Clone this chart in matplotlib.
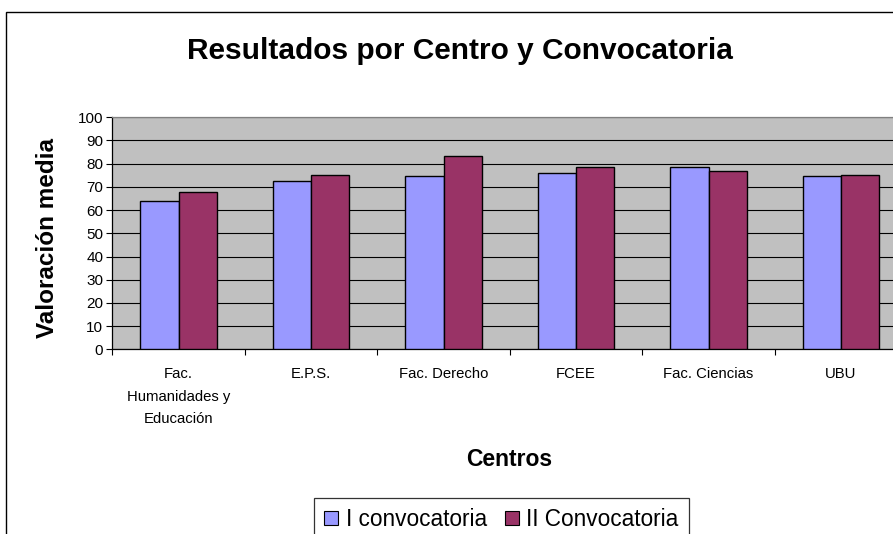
import matplotlib
matplotlib.use("Agg")
import matplotlib.pyplot as plt
from matplotlib.patches import Rectangle, Patch
import numpy as np

plt.rcParams['font.family'] = ['Liberation Sans', 'DejaVu Sans']

categories = ["Fac.\nHumanidades y\nEducación", "E.P.S.", "Fac. Derecho", "FCEE", "Fac. Ciencias", "UBU"]
conv1 = [64, 72.5, 74.5, 76, 78.5, 74.5]
conv2 = [68, 75, 83.5, 78.5, 77, 75]
series_names = ["I convocatoria", "II Convocatoria"]
yticks = list(range(0, 101, 10))

W, H = 893, 534
fig = plt.figure(figsize=(W / 100, H / 100), dpi=100)
fig.patch.set_facecolor("white")

# outer chart-area border (extends past right/bottom edges)
fig.add_artist(Rectangle((6 / W, -0.2), 2.0, (1 - 12 / H) + 0.2, transform=fig.transFigure,
                         fill=False, edgecolor="black", linewidth=1.0))

ax = fig.add_axes([112.3 / W, (H - 349.3) / H, 795 / W, 232 / H])
ax.set_facecolor("#C0C0C0")

x = np.arange(len(categories))
w = 0.29
ax.bar(x - w / 2, conv1, width=w, color="#9999FF", edgecolor="black", linewidth=1.0, zorder=3)
ax.bar(x + w / 2, conv2, width=w, color="#993366", edgecolor="black", linewidth=1.0, zorder=3)

ax.set_xlim(-0.5, len(categories) - 0.5)
ax.set_ylim(0, 100)
ax.set_yticks(yticks)
ax.yaxis.grid(True, color="black", linewidth=0.8, zorder=1)
ax.set_axisbelow(True)

ax.set_xticks(x)
ax.set_xticklabels(categories, fontsize=10.7, linespacing=1.75)
ax.set_xticks(np.arange(-0.5, len(categories) + 0.5, 1), minor=True)
ax.tick_params(axis="x", which="major", length=0, pad=13)
ax.tick_params(axis="x", which="minor", length=4, width=0.8, color="black", direction="out")
ax.tick_params(axis="y", which="major", length=4, width=0.8, color="black", direction="out",
               pad=2.5, labelsize=11)

for s in ["left", "bottom"]:
    ax.spines[s].set_color("black")
    ax.spines[s].set_linewidth(0.9)
ax.spines["top"].set_color("#808080")
ax.spines["top"].set_linewidth(0.9)
ax.spines["right"].set_visible(False)

fig.text(459.5 / W, 1 - 59.3 / H, "Resultados por Centro y Convocatoria", fontsize=21.5,
         fontweight="bold", ha="center", va="baseline")
fig.text(47.5 / W, 1 - 237.5 / H, "Valoración media", fontsize=17.5, fontweight="bold",
         rotation=90, ha="center", va="center")
fig.text(509 / W, 1 - 466 / H, "Centros", fontsize=16.5, fontweight="bold",
         ha="center", va="baseline")

handles = [Patch(facecolor="#9999FF", edgecolor="black", linewidth=0.8),
           Patch(facecolor="#993366", edgecolor="black", linewidth=0.8)]
leg = fig.legend(handles, series_names, loc="upper center", ncol=2,
                 bbox_to_anchor=(501.5 / W, 1 - 498 / H), fontsize=16.3,
                 frameon=True, fancybox=False, shadow=False,
                 handlelength=0.6, handleheight=0.6, handletextpad=0.35,
                 columnspacing=0.8, borderpad=0.45, borderaxespad=0)
leg.get_frame().set_edgecolor("black")
leg.get_frame().set_linewidth(0.9)

fig.savefig("out.png", dpi=100)
